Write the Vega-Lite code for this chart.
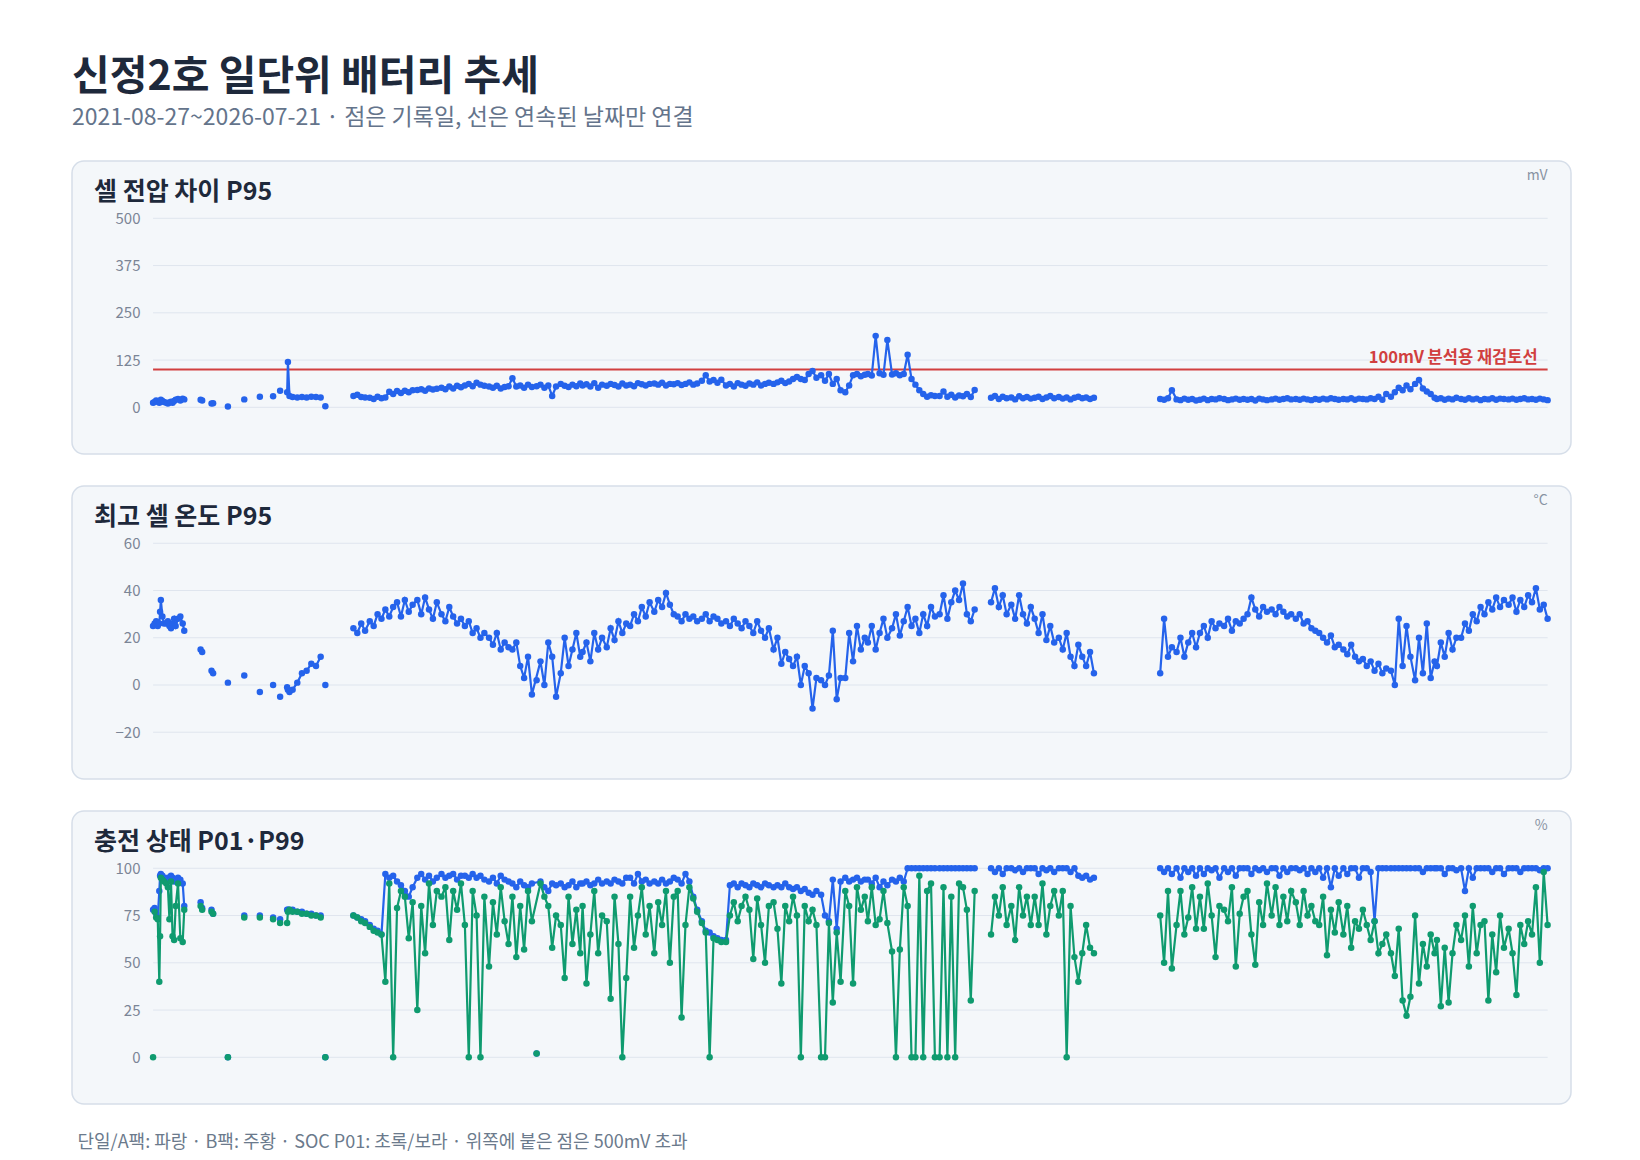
{
"$schema":"https://vega.github.io/schema/vega-lite/v6.json",
"background":"#ffffff",
"padding":{"left":71,"top":57,"right":20,"bottom":5},
"config":{"view":{"fill":"#f4f7fa","stroke":"#d6dee9","strokeWidth":1.5,"cornerRadius":12},"font":"Noto Sans CJK KR"},
"title":{"text":"신정2호 일단위 배터리 추세","subtitle":"2021-08-27~2026-07-21 · 점은 기록일, 선은 연속된 날짜만 연결","anchor":"start","frame":"group","font":"Noto Sans CJK KR","fontSize":41,"fontWeight":"bold","color":"#1e293b","subtitleFont":"Noto Sans CJK KR","subtitleFontSize":23,"subtitleColor":"#64748b","subtitlePadding":8,"offset":29},
"spacing":30,
"datasets":{
"grid1":[{"v":0,"d":"2021-08-27","d2":"2026-07-21"},{"v":125,"d":"2021-08-27","d2":"2026-07-21"},{"v":250,"d":"2021-08-27","d2":"2026-07-21"},{"v":375,"d":"2021-08-27","d2":"2026-07-21"},{"v":500,"d":"2021-08-27","d2":"2026-07-21"}],
"thr":[{"v":100,"d":"2021-08-27","d2":"2026-07-21"}],
"thrlab":[{"v":100,"d":"2026-07-21","lab":"100mV 분석용 재검토선"}],
"unit1":[{"v":612.7,"d":"2026-07-21","u":"mV"}],
"grid2":[{"t":-20,"d":"2021-08-27","d2":"2026-07-21"},{"t":0,"d":"2021-08-27","d2":"2026-07-21"},{"t":20,"d":"2021-08-27","d2":"2026-07-21"},{"t":40,"d":"2021-08-27","d2":"2026-07-21"},{"t":60,"d":"2021-08-27","d2":"2026-07-21"}],
"unit2":[{"t":78.0,"d":"2026-07-21","u":"°C"}],
"grid3":[{"h":0,"d":"2021-08-27","d2":"2026-07-21"},{"h":25,"d":"2021-08-27","d2":"2026-07-21"},{"h":50,"d":"2021-08-27","d2":"2026-07-21"},{"h":75,"d":"2021-08-27","d2":"2026-07-21"},{"h":100,"d":"2021-08-27","d2":"2026-07-21"}],
"unit3":[{"h":122.5,"d":"2026-07-21","u":"%"}],
"main":[
{"d":"2021-08-27","v":12,"t":25,"h":78,"l":0,"g":0},
{"d":"2021-08-29","v":14,"t":26,"h":79,"l":77,"g":1},
{"d":"2021-08-31","v":18,"t":27,"h":76,"l":74,"g":1},
{"d":"2021-09-02","v":16,"t":25,"h":74,"l":73,"g":1},
{"d":"2021-09-04","v":12,"t":26,"h":88,"l":40,"g":1},
{"d":"2021-09-05","v":15,"t":31,"h":96,"l":64,"g":1},
{"d":"2021-09-06","v":20,"t":36,"h":97,"l":95,"g":1},
{"d":"2021-09-08","v":17,"t":29,"h":96,"l":94,"g":1},
{"d":"2021-09-10","v":14,"t":26,"h":95,"l":93,"g":1},
{"d":"2021-09-13","v":12,"t":26,"h":94,"l":92,"g":1},
{"d":"2021-09-15","v":10,"t":27,"h":95,"l":90,"g":1},
{"d":"2021-09-17","v":13,"t":25,"h":94,"l":73,"g":1},
{"d":"2021-09-19","v":15,"t":24,"h":96,"l":93,"g":1},
{"d":"2021-09-21","v":12,"t":26,"h":95,"l":64,"g":1},
{"d":"2021-09-23","v":17,"t":28,"h":93,"l":62,"g":1},
{"d":"2021-09-25","v":20,"t":25,"h":94,"l":80,"g":1},
{"d":"2021-09-28","v":22,"t":28,"h":95,"l":92,"g":1},
{"d":"2021-10-01","v":18,"t":29,"h":94,"l":63,"g":1},
{"d":"2021-10-04","v":23,"t":26,"h":92,"l":61,"g":1},
{"d":"2021-10-06","v":21,"t":23,"h":80,"l":78,"g":1},
{"d":"2021-10-27","v":20,"t":15,"h":82,"l":80,"g":2},
{"d":"2021-10-29","v":18,"t":14,"h":79,"l":78,"g":2},
{"d":"2021-11-10","v":10,"t":6,"h":78,"l":77,"g":3},
{"d":"2021-11-12","v":11,"t":5,"h":76,"l":76,"g":3},
{"d":"2021-12-01","v":2,"t":1,"h":0,"l":0,"g":4},
{"d":"2021-12-22","v":21,"t":4,"h":75,"l":74,"g":5},
{"d":"2022-01-11","v":28,"t":-3,"h":75,"l":74,"g":6},
{"d":"2022-01-28","v":29,"t":0,"h":74,"l":73,"g":7},
{"d":"2022-02-06","v":44,"t":-5,"h":73,"l":71,"g":8},
{"d":"2022-02-15","v":40,"t":-1,"h":78,"l":71,"g":9},
{"d":"2022-02-16","v":120,"t":-2,"h":78,"l":77,"g":9},
{"d":"2022-02-18","v":30,"t":-3,"h":78,"l":78,"g":9},
{"d":"2022-02-22","v":27,"t":-2,"h":78,"l":77,"g":9},
{"d":"2022-02-28","v":26,"t":1,"h":77,"l":77,"g":9},
{"d":"2022-03-06","v":27,"t":5,"h":77,"l":76,"g":9},
{"d":"2022-03-12","v":26,"t":6,"h":76,"l":76,"g":9},
{"d":"2022-03-18","v":28,"t":9,"h":76,"l":75,"g":9},
{"d":"2022-03-24","v":27,"t":8,"h":75,"l":75,"g":9},
{"d":"2022-03-30","v":26,"t":12,"h":75,"l":74,"g":9},
{"d":"2022-04-05","v":3,"t":0,"h":0,"l":0,"g":10},
{"d":"2022-05-11","v":30,"t":24,"h":75,"l":75,"g":11},
{"d":"2022-05-16","v":33,"t":22,"h":74,"l":74,"g":11},
{"d":"2022-05-21","v":27,"t":26,"h":73,"l":72,"g":11},
{"d":"2022-05-26","v":26,"t":23,"h":72,"l":71,"g":11},
{"d":"2022-06-01","v":25,"t":27,"h":70,"l":69,"g":11},
{"d":"2022-06-06","v":22,"t":25,"h":68,"l":67,"g":11},
{"d":"2022-06-11","v":28,"t":30,"h":67,"l":66,"g":11},
{"d":"2022-06-16","v":24,"t":28,"h":65,"l":65,"g":11},
{"d":"2022-06-21","v":26,"t":32,"h":97,"l":40,"g":11},
{"d":"2022-06-26","v":41,"t":29,"h":95,"l":92,"g":11},
{"d":"2022-07-01","v":35,"t":33,"h":96,"l":0,"g":11},
{"d":"2022-07-06","v":43,"t":35,"h":93,"l":79,"g":11},
{"d":"2022-07-11","v":38,"t":29,"h":91,"l":88,"g":11},
{"d":"2022-07-16","v":44,"t":36,"h":88,"l":85,"g":11},
{"d":"2022-07-21","v":40,"t":31,"h":85,"l":63,"g":11},
{"d":"2022-07-26","v":45,"t":34,"h":90,"l":82,"g":11},
{"d":"2022-08-01","v":46,"t":36,"h":95,"l":25,"g":11},
{"d":"2022-08-06","v":48,"t":30,"h":97,"l":80,"g":11},
{"d":"2022-08-11","v":44,"t":37,"h":94,"l":55,"g":11},
{"d":"2022-08-16","v":50,"t":32,"h":96,"l":92,"g":11},
{"d":"2022-08-21","v":47,"t":28,"h":93,"l":70,"g":11},
{"d":"2022-08-26","v":49,"t":35,"h":95,"l":88,"g":11},
{"d":"2022-09-01","v":52,"t":30,"h":97,"l":85,"g":11},
{"d":"2022-09-06","v":48,"t":27,"h":95,"l":90,"g":11},
{"d":"2022-09-11","v":55,"t":33,"h":96,"l":62,"g":11},
{"d":"2022-09-16","v":50,"t":29,"h":97,"l":88,"g":11},
{"d":"2022-09-21","v":57,"t":26,"h":94,"l":78,"g":11},
{"d":"2022-09-26","v":53,"t":28,"h":96,"l":92,"g":11},
{"d":"2022-10-01","v":58,"t":25,"h":96,"l":70,"g":11},
{"d":"2022-10-06","v":62,"t":27,"h":95,"l":0,"g":11},
{"d":"2022-10-11","v":56,"t":22,"h":97,"l":88,"g":11},
{"d":"2022-10-16","v":65,"t":24,"h":95,"l":75,"g":11},
{"d":"2022-10-21","v":60,"t":20,"h":96,"l":0,"g":11},
{"d":"2022-10-26","v":57,"t":22,"h":94,"l":85,"g":11},
{"d":"2022-11-01","v":55,"t":20,"h":93,"l":48,"g":11},
{"d":"2022-11-06","v":52,"t":17,"h":95,"l":82,"g":11},
{"d":"2022-11-11","v":57,"t":22,"h":92,"l":65,"g":11},
{"d":"2022-11-16","v":50,"t":15,"h":96,"l":90,"g":11},
{"d":"2022-11-21","v":54,"t":18,"h":94,"l":72,"g":11},
{"d":"2022-11-26","v":56,"t":16,"h":93,"l":60,"g":11},
{"d":"2022-12-01","v":77,"t":15,"h":92,"l":85,"g":11},
{"d":"2022-12-06","v":55,"t":18,"h":90,"l":53,"g":11},
{"d":"2022-12-11","v":58,"t":8,"h":93,"l":80,"g":11},
{"d":"2022-12-16","v":52,"t":3,"h":91,"l":57,"g":11},
{"d":"2022-12-21","v":60,"t":12,"h":90,"l":88,"g":11},
{"d":"2022-12-26","v":54,"t":-4,"h":92,"l":72,"g":11},
{"d":"2023-01-01","v":56,"t":2,"h":2,"l":2,"g":20},
{"d":"2023-01-06","v":60,"t":10,"h":93,"l":92,"g":11},
{"d":"2023-01-11","v":52,"t":0,"h":90,"l":85,"g":11},
{"d":"2023-01-16","v":58,"t":18,"h":88,"l":80,"g":11},
{"d":"2023-01-21","v":30,"t":12,"h":92,"l":58,"g":11},
{"d":"2023-01-26","v":55,"t":-5,"h":91,"l":75,"g":11},
{"d":"2023-02-01","v":62,"t":5,"h":92,"l":70,"g":11},
{"d":"2023-02-06","v":57,"t":20,"h":90,"l":42,"g":11},
{"d":"2023-02-11","v":54,"t":8,"h":91,"l":85,"g":11},
{"d":"2023-02-16","v":60,"t":15,"h":93,"l":60,"g":11},
{"d":"2023-02-21","v":56,"t":22,"h":90,"l":78,"g":11},
{"d":"2023-02-26","v":63,"t":12,"h":92,"l":55,"g":11},
{"d":"2023-03-01","v":58,"t":14,"h":92,"l":80,"g":11},
{"d":"2023-03-06","v":61,"t":18,"h":93,"l":39,"g":11},
{"d":"2023-03-11","v":55,"t":10,"h":91,"l":65,"g":11},
{"d":"2023-03-16","v":64,"t":22,"h":92,"l":88,"g":11},
{"d":"2023-03-21","v":52,"t":15,"h":94,"l":55,"g":11},
{"d":"2023-03-26","v":60,"t":20,"h":92,"l":75,"g":11},
{"d":"2023-04-01","v":57,"t":16,"h":93,"l":72,"g":11},
{"d":"2023-04-06","v":62,"t":24,"h":92,"l":31,"g":11},
{"d":"2023-04-11","v":59,"t":19,"h":94,"l":85,"g":11},
{"d":"2023-04-16","v":55,"t":27,"h":93,"l":60,"g":11},
{"d":"2023-04-21","v":63,"t":22,"h":92,"l":0,"g":11},
{"d":"2023-04-26","v":58,"t":26,"h":95,"l":42,"g":11},
{"d":"2023-05-01","v":60,"t":25,"h":95,"l":85,"g":11},
{"d":"2023-05-06","v":56,"t":30,"h":92,"l":58,"g":11},
{"d":"2023-05-11","v":64,"t":27,"h":97,"l":75,"g":11},
{"d":"2023-05-16","v":61,"t":33,"h":93,"l":90,"g":11},
{"d":"2023-05-21","v":58,"t":29,"h":94,"l":65,"g":11},
{"d":"2023-05-26","v":62,"t":35,"h":92,"l":80,"g":11},
{"d":"2023-06-01","v":63,"t":31,"h":93,"l":55,"g":11},
{"d":"2023-06-06","v":60,"t":36,"h":92,"l":82,"g":11},
{"d":"2023-06-11","v":65,"t":33,"h":94,"l":70,"g":11},
{"d":"2023-06-16","v":58,"t":39,"h":92,"l":88,"g":11},
{"d":"2023-06-21","v":62,"t":34,"h":93,"l":50,"g":11},
{"d":"2023-06-26","v":61,"t":30,"h":95,"l":85,"g":11},
{"d":"2023-07-01","v":64,"t":29,"h":94,"l":88,"g":11},
{"d":"2023-07-06","v":59,"t":27,"h":92,"l":21,"g":11},
{"d":"2023-07-11","v":62,"t":30,"h":97,"l":70,"g":11},
{"d":"2023-07-16","v":66,"t":28,"h":93,"l":90,"g":11},
{"d":"2023-07-21","v":60,"t":29,"h":85,"l":84,"g":11},
{"d":"2023-07-26","v":63,"t":27,"h":78,"l":77,"g":11},
{"d":"2023-08-01","v":70,"t":28,"h":72,"l":71,"g":11},
{"d":"2023-08-06","v":85,"t":30,"h":67,"l":66,"g":11},
{"d":"2023-08-11","v":68,"t":27,"h":66,"l":0,"g":11},
{"d":"2023-08-16","v":72,"t":29,"h":64,"l":63,"g":11},
{"d":"2023-08-21","v":65,"t":28,"h":63,"l":62,"g":11},
{"d":"2023-08-26","v":73,"t":26,"h":62,"l":61,"g":11},
{"d":"2023-09-01","v":58,"t":27,"h":62,"l":61,"g":11},
{"d":"2023-09-06","v":62,"t":25,"h":91,"l":75,"g":11},
{"d":"2023-09-11","v":55,"t":28,"h":92,"l":82,"g":11},
{"d":"2023-09-16","v":64,"t":26,"h":90,"l":72,"g":11},
{"d":"2023-09-21","v":60,"t":24,"h":92,"l":80,"g":11},
{"d":"2023-09-26","v":57,"t":27,"h":91,"l":85,"g":11},
{"d":"2023-10-01","v":63,"t":25,"h":90,"l":78,"g":11},
{"d":"2023-10-06","v":60,"t":22,"h":92,"l":52,"g":11},
{"d":"2023-10-11","v":66,"t":27,"h":91,"l":84,"g":11},
{"d":"2023-10-16","v":58,"t":23,"h":90,"l":70,"g":11},
{"d":"2023-10-21","v":62,"t":20,"h":92,"l":50,"g":11},
{"d":"2023-10-26","v":65,"t":24,"h":91,"l":80,"g":11},
{"d":"2023-11-01","v":62,"t":15,"h":90,"l":82,"g":11},
{"d":"2023-11-06","v":66,"t":20,"h":91,"l":68,"g":11},
{"d":"2023-11-11","v":70,"t":9,"h":90,"l":39,"g":11},
{"d":"2023-11-16","v":64,"t":14,"h":92,"l":80,"g":11},
{"d":"2023-11-21","v":68,"t":11,"h":90,"l":72,"g":11},
{"d":"2023-11-26","v":75,"t":8,"h":89,"l":85,"g":11},
{"d":"2023-12-01","v":80,"t":12,"h":90,"l":75,"g":11},
{"d":"2023-12-06","v":75,"t":0,"h":88,"l":0,"g":11},
{"d":"2023-12-11","v":72,"t":8,"h":89,"l":80,"g":11},
{"d":"2023-12-16","v":88,"t":5,"h":87,"l":72,"g":11},
{"d":"2023-12-21","v":96,"t":-10,"h":86,"l":78,"g":11},
{"d":"2023-12-26","v":78,"t":3,"h":88,"l":70,"g":11},
{"d":"2024-01-01","v":85,"t":2,"h":86,"l":0,"g":11},
{"d":"2024-01-06","v":70,"t":0,"h":75,"l":0,"g":11},
{"d":"2024-01-11","v":88,"t":4,"h":72,"l":71,"g":11},
{"d":"2024-01-16","v":62,"t":23,"h":94,"l":29,"g":11},
{"d":"2024-01-21","v":75,"t":-6,"h":68,"l":66,"g":11},
{"d":"2024-01-26","v":45,"t":3,"h":93,"l":40,"g":11},
{"d":"2024-02-01","v":40,"t":3,"h":95,"l":88,"g":11},
{"d":"2024-02-06","v":58,"t":22,"h":93,"l":80,"g":11},
{"d":"2024-02-11","v":85,"t":10,"h":94,"l":39,"g":11},
{"d":"2024-02-16","v":88,"t":25,"h":95,"l":90,"g":11},
{"d":"2024-02-21","v":82,"t":15,"h":93,"l":78,"g":11},
{"d":"2024-02-26","v":86,"t":20,"h":94,"l":85,"g":11},
{"d":"2024-03-01","v":88,"t":18,"h":94,"l":72,"g":11},
{"d":"2024-03-06","v":84,"t":25,"h":92,"l":90,"g":11},
{"d":"2024-03-11","v":189,"t":15,"h":95,"l":70,"g":11},
{"d":"2024-03-16","v":90,"t":22,"h":90,"l":73,"g":11},
{"d":"2024-03-21","v":86,"t":28,"h":93,"l":88,"g":11},
{"d":"2024-03-26","v":178,"t":20,"h":91,"l":71,"g":11},
{"d":"2024-04-01","v":87,"t":24,"h":94,"l":56,"g":11},
{"d":"2024-04-06","v":90,"t":30,"h":93,"l":0,"g":11},
{"d":"2024-04-11","v":85,"t":21,"h":95,"l":57,"g":11},
{"d":"2024-04-16","v":88,"t":27,"h":93,"l":90,"g":11},
{"d":"2024-04-21","v":139,"t":33,"h":100,"l":80,"g":11},
{"d":"2024-04-26","v":75,"t":25,"h":100,"l":0,"g":11},
{"d":"2024-05-01","v":60,"t":28,"h":100,"l":0,"g":11},
{"d":"2024-05-06","v":45,"t":22,"h":100,"l":96,"g":11},
{"d":"2024-05-11","v":35,"t":30,"h":100,"l":0,"g":11},
{"d":"2024-05-16","v":28,"t":25,"h":100,"l":88,"g":11},
{"d":"2024-05-21","v":32,"t":33,"h":100,"l":92,"g":11},
{"d":"2024-05-26","v":30,"t":29,"h":100,"l":0,"g":11},
{"d":"2024-06-01","v":30,"t":30,"h":100,"l":0,"g":11},
{"d":"2024-06-06","v":42,"t":38,"h":100,"l":90,"g":11},
{"d":"2024-06-11","v":28,"t":28,"h":100,"l":0,"g":11},
{"d":"2024-06-16","v":33,"t":35,"h":100,"l":85,"g":11},
{"d":"2024-06-21","v":26,"t":40,"h":100,"l":0,"g":11},
{"d":"2024-06-26","v":31,"t":36,"h":100,"l":92,"g":11},
{"d":"2024-07-01","v":29,"t":43,"h":100,"l":90,"g":11},
{"d":"2024-07-06","v":35,"t":30,"h":100,"l":78,"g":11},
{"d":"2024-07-11","v":27,"t":27,"h":100,"l":30,"g":11},
{"d":"2024-07-16","v":46,"t":32,"h":100,"l":88,"g":11},
{"d":"2024-08-06","v":25,"t":35,"h":100,"l":65,"g":12},
{"d":"2024-08-11","v":30,"t":41,"h":98,"l":85,"g":12},
{"d":"2024-08-16","v":22,"t":33,"h":100,"l":75,"g":12},
{"d":"2024-08-21","v":28,"t":38,"h":97,"l":90,"g":12},
{"d":"2024-08-26","v":24,"t":30,"h":100,"l":70,"g":12},
{"d":"2024-09-01","v":26,"t":34,"h":100,"l":80,"g":12},
{"d":"2024-09-06","v":21,"t":28,"h":99,"l":62,"g":12},
{"d":"2024-09-11","v":29,"t":38,"h":100,"l":90,"g":12},
{"d":"2024-09-16","v":24,"t":30,"h":98,"l":75,"g":12},
{"d":"2024-09-21","v":27,"t":26,"h":100,"l":85,"g":12},
{"d":"2024-09-26","v":23,"t":33,"h":100,"l":70,"g":12},
{"d":"2024-10-01","v":25,"t":28,"h":100,"l":85,"g":12},
{"d":"2024-10-06","v":28,"t":22,"h":97,"l":70,"g":12},
{"d":"2024-10-11","v":22,"t":30,"h":100,"l":92,"g":12},
{"d":"2024-10-16","v":26,"t":19,"h":99,"l":65,"g":12},
{"d":"2024-10-21","v":30,"t":25,"h":100,"l":80,"g":12},
{"d":"2024-10-26","v":24,"t":18,"h":98,"l":88,"g":12},
{"d":"2024-11-01","v":27,"t":20,"h":100,"l":75,"g":12},
{"d":"2024-11-06","v":23,"t":15,"h":100,"l":88,"g":12},
{"d":"2024-11-11","v":26,"t":22,"h":100,"l":0,"g":12},
{"d":"2024-11-16","v":21,"t":12,"h":98,"l":80,"g":12},
{"d":"2024-11-21","v":25,"t":8,"h":100,"l":53,"g":12},
{"d":"2024-11-26","v":28,"t":17,"h":96,"l":40,"g":12},
{"d":"2024-12-01","v":24,"t":12,"h":95,"l":55,"g":12},
{"d":"2024-12-06","v":26,"t":8,"h":96,"l":70,"g":12},
{"d":"2024-12-11","v":22,"t":14,"h":94,"l":58,"g":12},
{"d":"2024-12-16","v":25,"t":5,"h":95,"l":55,"g":12},
{"d":"2025-03-11","v":22,"t":5,"h":100,"l":75,"g":13},
{"d":"2025-03-16","v":20,"t":28,"h":98,"l":50,"g":13},
{"d":"2025-03-21","v":24,"t":12,"h":100,"l":88,"g":13},
{"d":"2025-03-26","v":45,"t":16,"h":97,"l":47,"g":13},
{"d":"2025-04-01","v":21,"t":14,"h":100,"l":70,"g":13},
{"d":"2025-04-06","v":19,"t":20,"h":95,"l":88,"g":13},
{"d":"2025-04-11","v":23,"t":12,"h":100,"l":65,"g":13},
{"d":"2025-04-16","v":20,"t":18,"h":98,"l":74,"g":13},
{"d":"2025-04-21","v":22,"t":22,"h":100,"l":90,"g":13},
{"d":"2025-04-26","v":18,"t":16,"h":96,"l":68,"g":13},
{"d":"2025-05-01","v":20,"t":22,"h":100,"l":85,"g":13},
{"d":"2025-05-06","v":23,"t":25,"h":97,"l":68,"g":13},
{"d":"2025-05-11","v":19,"t":20,"h":100,"l":92,"g":13},
{"d":"2025-05-16","v":22,"t":27,"h":99,"l":75,"g":13},
{"d":"2025-05-21","v":21,"t":24,"h":100,"l":53,"g":13},
{"d":"2025-05-26","v":24,"t":26,"h":95,"l":80,"g":13},
{"d":"2025-06-01","v":22,"t":25,"h":100,"l":78,"g":13},
{"d":"2025-06-06","v":19,"t":28,"h":98,"l":72,"g":13},
{"d":"2025-06-11","v":21,"t":23,"h":100,"l":90,"g":13},
{"d":"2025-06-16","v":23,"t":27,"h":96,"l":48,"g":13},
{"d":"2025-06-21","v":20,"t":26,"h":100,"l":76,"g":13},
{"d":"2025-06-26","v":22,"t":28,"h":100,"l":85,"g":13},
{"d":"2025-07-01","v":20,"t":30,"h":100,"l":88,"g":13},
{"d":"2025-07-06","v":22,"t":37,"h":97,"l":65,"g":13},
{"d":"2025-07-11","v":18,"t":32,"h":100,"l":49,"g":13},
{"d":"2025-07-16","v":23,"t":29,"h":99,"l":82,"g":13},
{"d":"2025-07-21","v":21,"t":33,"h":100,"l":70,"g":13},
{"d":"2025-07-26","v":19,"t":31,"h":98,"l":92,"g":13},
{"d":"2025-08-01","v":21,"t":32,"h":100,"l":75,"g":13},
{"d":"2025-08-06","v":23,"t":30,"h":100,"l":90,"g":13},
{"d":"2025-08-11","v":20,"t":33,"h":96,"l":70,"g":13},
{"d":"2025-08-16","v":22,"t":31,"h":100,"l":85,"g":13},
{"d":"2025-08-21","v":24,"t":29,"h":98,"l":72,"g":13},
{"d":"2025-08-26","v":21,"t":30,"h":100,"l":88,"g":13},
{"d":"2025-09-01","v":22,"t":28,"h":100,"l":82,"g":13},
{"d":"2025-09-06","v":20,"t":30,"h":99,"l":70,"g":13},
{"d":"2025-09-11","v":23,"t":26,"h":100,"l":88,"g":13},
{"d":"2025-09-16","v":21,"t":27,"h":97,"l":75,"g":13},
{"d":"2025-09-21","v":19,"t":24,"h":100,"l":80,"g":13},
{"d":"2025-09-26","v":22,"t":23,"h":98,"l":72,"g":13},
{"d":"2025-10-01","v":20,"t":22,"h":100,"l":70,"g":13},
{"d":"2025-10-06","v":23,"t":20,"h":95,"l":85,"g":13},
{"d":"2025-10-11","v":21,"t":18,"h":100,"l":54,"g":13},
{"d":"2025-10-16","v":24,"t":21,"h":90,"l":78,"g":13},
{"d":"2025-10-21","v":22,"t":16,"h":100,"l":66,"g":13},
{"d":"2025-10-26","v":20,"t":17,"h":96,"l":82,"g":13},
{"d":"2025-11-01","v":22,"t":15,"h":100,"l":65,"g":13},
{"d":"2025-11-06","v":21,"t":13,"h":97,"l":80,"g":13},
{"d":"2025-11-11","v":24,"t":17,"h":100,"l":58,"g":13},
{"d":"2025-11-16","v":20,"t":12,"h":100,"l":72,"g":13},
{"d":"2025-11-21","v":23,"t":10,"h":95,"l":68,"g":13},
{"d":"2025-11-26","v":22,"t":11,"h":100,"l":78,"g":13},
{"d":"2025-12-01","v":21,"t":8,"h":100,"l":70,"g":13},
{"d":"2025-12-06","v":24,"t":10,"h":98,"l":62,"g":13},
{"d":"2025-12-11","v":22,"t":6,"h":72,"l":72,"g":13},
{"d":"2025-12-16","v":28,"t":9,"h":100,"l":55,"g":13},
{"d":"2025-12-21","v":20,"t":5,"h":100,"l":60,"g":13},
{"d":"2025-12-26","v":35,"t":7,"h":100,"l":65,"g":13},
{"d":"2026-01-01","v":28,"t":6,"h":100,"l":55,"g":13},
{"d":"2026-01-06","v":40,"t":0,"h":100,"l":43,"g":13},
{"d":"2026-01-11","v":52,"t":28,"h":100,"l":68,"g":13},
{"d":"2026-01-16","v":45,"t":8,"h":100,"l":30,"g":13},
{"d":"2026-01-21","v":58,"t":25,"h":100,"l":22,"g":13},
{"d":"2026-01-26","v":48,"t":12,"h":100,"l":32,"g":13},
{"d":"2026-02-01","v":62,"t":2,"h":100,"l":75,"g":13},
{"d":"2026-02-06","v":72,"t":20,"h":100,"l":39,"g":13},
{"d":"2026-02-11","v":50,"t":5,"h":98,"l":60,"g":13},
{"d":"2026-02-16","v":42,"t":26,"h":100,"l":48,"g":13},
{"d":"2026-02-21","v":35,"t":3,"h":100,"l":65,"g":13},
{"d":"2026-02-26","v":25,"t":10,"h":100,"l":55,"g":13},
{"d":"2026-03-01","v":22,"t":8,"h":100,"l":62,"g":13},
{"d":"2026-03-06","v":24,"t":18,"h":100,"l":27,"g":13},
{"d":"2026-03-11","v":20,"t":12,"h":97,"l":58,"g":13},
{"d":"2026-03-16","v":23,"t":22,"h":100,"l":29,"g":13},
{"d":"2026-03-21","v":21,"t":15,"h":100,"l":55,"g":13},
{"d":"2026-03-26","v":25,"t":20,"h":99,"l":70,"g":13},
{"d":"2026-04-01","v":22,"t":20,"h":100,"l":62,"g":13},
{"d":"2026-04-06","v":20,"t":26,"h":88,"l":75,"g":13},
{"d":"2026-04-11","v":24,"t":23,"h":100,"l":48,"g":13},
{"d":"2026-04-16","v":21,"t":30,"h":95,"l":80,"g":13},
{"d":"2026-04-21","v":23,"t":27,"h":100,"l":55,"g":13},
{"d":"2026-04-26","v":19,"t":33,"h":100,"l":70,"g":13},
{"d":"2026-05-01","v":22,"t":30,"h":100,"l":72,"g":13},
{"d":"2026-05-06","v":21,"t":35,"h":100,"l":30,"g":13},
{"d":"2026-05-11","v":24,"t":32,"h":98,"l":65,"g":13},
{"d":"2026-05-16","v":20,"t":37,"h":100,"l":45,"g":13},
{"d":"2026-05-21","v":23,"t":33,"h":100,"l":75,"g":13},
{"d":"2026-05-26","v":22,"t":36,"h":97,"l":58,"g":13},
{"d":"2026-06-01","v":21,"t":34,"h":100,"l":68,"g":13},
{"d":"2026-06-06","v":23,"t":37,"h":100,"l":55,"g":13},
{"d":"2026-06-11","v":20,"t":31,"h":100,"l":33,"g":13},
{"d":"2026-06-16","v":22,"t":36,"h":98,"l":70,"g":13},
{"d":"2026-06-21","v":24,"t":33,"h":100,"l":60,"g":13},
{"d":"2026-06-26","v":21,"t":38,"h":100,"l":72,"g":13},
{"d":"2026-07-01","v":22,"t":35,"h":100,"l":65,"g":13},
{"d":"2026-07-06","v":20,"t":41,"h":100,"l":90,"g":13},
{"d":"2026-07-11","v":23,"t":32,"h":99,"l":50,"g":13},
{"d":"2026-07-16","v":21,"t":34,"h":100,"l":98,"g":13},
{"d":"2026-07-21","v":19,"t":28,"h":100,"l":70,"g":13}
]},
"vconcat":[
{
"width":1499,"height":293,
"title":{"text":"셀 전압 차이 P95","anchor":"start","frame":"group","offset":-56,"baseline":"middle","dx":22,"fontSize":25,"fontWeight":"bold","color":"#1e293b","font":"Noto Sans CJK KR"},
"encoding":{
"x":{"field":"d","type":"temporal","scale":{"type":"utc","domain":[{"year":2021,"month":5,"date":15,"utc":true},{"year":2026,"month":8,"date":20,"utc":true}]},"axis":null},
"y":{"field":"v","type":"quantitative","scale":{"domain":[-123.5,651.6],"nice":false,"zero":false},"axis":{"values":[0,125,250,375,500],"grid":false,"domain":false,"ticks":false,"tickSize":0,"labelPadding":0,"offset":-68,"title":null,"labelFontSize":15,"labelColor":"#7b8596","labelFont":"Noto Sans CJK KR"}}
},
"layer":[
{"data":{"name":"grid1"},"mark":{"type":"rule","color":"#dfe5ee","strokeWidth":1},"encoding":{"x2":{"field":"d2"}}},
{"data":{"name":"thr"},"mark":{"type":"rule","color":"#d13f3f","strokeWidth":2},"encoding":{"x2":{"field":"d2"}}},
{"data":{"name":"main"},"mark":{"type":"line","color":"#2563eb","strokeWidth":2.2},"encoding":{"detail":{"field":"g","type":"nominal"}}},
{"data":{"name":"main"},"mark":{"type":"point","filled":true,"color":"#2563eb","size":42,"opacity":1,"strokeWidth":0}},
{"data":{"name":"thrlab"},"mark":{"type":"text","align":"right","baseline":"middle","dx":-10,"dy":-12,"fontSize":16.5,"fontWeight":"bold","color":"#d13f3f","font":"Noto Sans CJK KR"},"encoding":{"text":{"field":"lab"}}},
{"data":{"name":"unit1"},"mark":{"type":"text","align":"right","baseline":"middle","fontSize":14,"color":"#8893a3","font":"Noto Sans CJK KR"},"encoding":{"text":{"field":"u"}}}
]
},
{
"width":1499,"height":293,
"title":{"text":"최고 셀 온도 P95","anchor":"start","frame":"group","offset":-56,"baseline":"middle","dx":22,"fontSize":25,"fontWeight":"bold","color":"#1e293b","font":"Noto Sans CJK KR"},
"encoding":{
"x":{"field":"d","type":"temporal","scale":{"type":"utc","domain":[{"year":2021,"month":5,"date":15,"utc":true},{"year":2026,"month":8,"date":20,"utc":true}]},"axis":null},
"y":{"field":"t","type":"quantitative","scale":{"domain":[-39.8,84.25],"nice":false,"zero":false},"axis":{"values":[-20,0,20,40,60],"grid":false,"domain":false,"ticks":false,"tickSize":0,"labelPadding":0,"offset":-68,"title":null,"labelFontSize":15,"labelColor":"#7b8596","labelFont":"Noto Sans CJK KR"}}
},
"layer":[
{"data":{"name":"grid2"},"mark":{"type":"rule","color":"#dfe5ee","strokeWidth":1},"encoding":{"x2":{"field":"d2"}}},
{"data":{"name":"main"},"mark":{"type":"line","color":"#2563eb","strokeWidth":2.2},"encoding":{"detail":{"field":"g","type":"nominal"}}},
{"data":{"name":"main"},"mark":{"type":"point","filled":true,"color":"#2563eb","size":42,"opacity":1,"strokeWidth":0}},
{"data":{"name":"unit2"},"mark":{"type":"text","align":"right","baseline":"middle","fontSize":14,"color":"#8893a3","font":"Noto Sans CJK KR"},"encoding":{"text":{"field":"u"}}}
]
},
{
"width":1499,"height":293,
"title":{"text":"충전 상태 P01·P99","anchor":"start","frame":"group","offset":-56,"baseline":"middle","dx":22,"fontSize":25,"fontWeight":"bold","color":"#1e293b","font":"Noto Sans CJK KR"},
"encoding":{
"x":{"field":"d","type":"temporal","scale":{"type":"utc","domain":[{"year":2021,"month":5,"date":15,"utc":true},{"year":2026,"month":8,"date":20,"utc":true}]},"axis":{"labels":false,"ticks":false,"domain":false,"grid":false,"title":"단일/A팩: 파랑 · B팩: 주황 · SOC P01: 초록/보라 · 위쪽에 붙은 점은 500mV 초과","titleAnchor":"start","titleAlign":"left","titleBaseline":"top","titleX":5,"titleY":29,"titleFontSize":18,"titleFontWeight":"normal","titleColor":"#6b7a8c","titleFont":"Noto Sans CJK KR"}},
"y":{"field":"h","type":"quantitative","scale":{"domain":[-24.7,130.3],"nice":false,"zero":false},"axis":{"values":[0,25,50,75,100],"grid":false,"domain":false,"ticks":false,"tickSize":0,"labelPadding":0,"offset":-68,"title":null,"labelFontSize":15,"labelColor":"#7b8596","labelFont":"Noto Sans CJK KR"}}
},
"layer":[
{"data":{"name":"grid3"},"mark":{"type":"rule","color":"#dfe5ee","strokeWidth":1},"encoding":{"x2":{"field":"d2"}}},
{"data":{"name":"main"},"mark":{"type":"line","color":"#2563eb","strokeWidth":2.2},"encoding":{"detail":{"field":"g","type":"nominal"}}},
{"data":{"name":"main"},"mark":{"type":"point","filled":true,"color":"#2563eb","size":42,"opacity":1,"strokeWidth":0}},
{"data":{"name":"main"},"mark":{"type":"line","color":"#0f9b6f","strokeWidth":2.2},"encoding":{"y":{"field":"l","type":"quantitative","scale":{"domain":[-24.7,130.3],"nice":false,"zero":false},"axis":{"values":[0,25,50,75,100],"grid":false,"domain":false,"ticks":false,"tickSize":0,"labelPadding":0,"offset":-68,"title":null,"labelFontSize":15,"labelColor":"#7b8596","labelFont":"Noto Sans CJK KR"}},"detail":{"field":"g","type":"nominal"}}},
{"data":{"name":"main"},"mark":{"type":"point","filled":true,"color":"#0f9b6f","size":42,"opacity":1,"strokeWidth":0},"encoding":{"y":{"field":"l","type":"quantitative","scale":{"domain":[-24.7,130.3],"nice":false,"zero":false},"axis":{"values":[0,25,50,75,100],"grid":false,"domain":false,"ticks":false,"tickSize":0,"labelPadding":0,"offset":-68,"title":null,"labelFontSize":15,"labelColor":"#7b8596","labelFont":"Noto Sans CJK KR"}}}},
{"data":{"name":"unit3"},"mark":{"type":"text","align":"right","baseline":"middle","fontSize":14,"color":"#8893a3","font":"Noto Sans CJK KR"},"encoding":{"text":{"field":"u"}}}
]
}
]
}
